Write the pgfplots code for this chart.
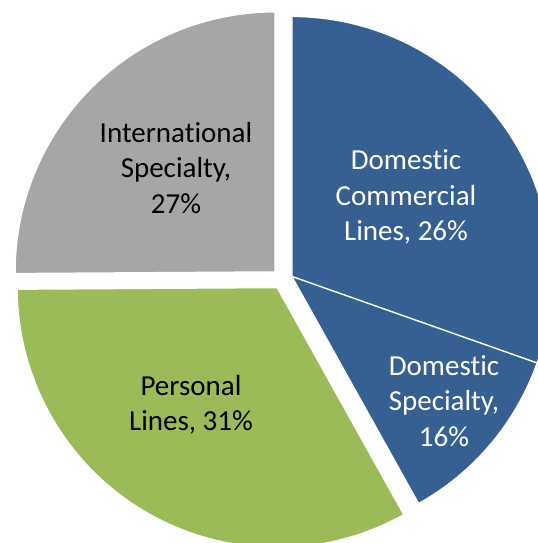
\documentclass[border=0pt]{standalone}
\usepackage{pgfplots}
\usepackage{pgfplotstable}
\pgfplotsset{compat=1.18}
\usepackage{fontspec}
\setmainfont{Carlito}[Ligatures=NoCommon]

\definecolor{pieblue}{RGB}{54,96,146}
\definecolor{piegreen}{RGB}{155,187,89}
\definecolor{piegray}{RGB}{166,166,166}

% share of the circle as drawn (percent), explode offset of each slice (px)
\pgfplotstableread{
label share dx dy
DC    30.4  9.7  2.5
DS    11.5  9.7  2.5
PL    33.0 -5.1 -8.6
IS    25.1 -7.1  7.1
}\pietable

\begin{document}
\begin{tikzpicture}
\begin{axis}[
    x=1bp, y=1bp,
    xmin=0, xmax=538, ymin=0, ymax=543,
    scale only axis, hide axis, clip=true,
]
\gdef\startang{90}
\foreach \i/\col in {0/pieblue,1/pieblue,2/piegreen,3/piegray}{
    \pgfplotstablegetelem{\i}{share}\of\pietable \let\s\pgfplotsretval
    \pgfplotstablegetelem{\i}{dx}\of\pietable \let\dx\pgfplotsretval
    \pgfplotstablegetelem{\i}{dy}\of\pietable \let\dy\pgfplotsretval
    \pgfmathsetmacro\endang{\startang-3.6*\s}
    \pgfmathsetmacro\cx{282.2+\dx}
    \pgfmathsetmacro\cy{264+\dy}
    \edef\temp{\noexpand\fill[\col, draw=white, line width=1.3bp]
        (axis cs:\cx,\cy) -- ++(\startang:260bp)
        arc[start angle=\startang, end angle=\endang, radius=260bp] -- cycle;}
    \temp
    \xdef\startang{\endang}
}
\tikzset{lbl/.style={align=center, inner sep=0pt, font=\fontsize{29bp}{35.5bp}\selectfont}}
\node[lbl, text=white] at (axis cs:406,346) {Domestic\\Commercial\\Lines, 26\%};
\node[lbl, text=white] at (axis cs:444,142) {Domestic\\Specialty,\\16\%};
\node[lbl, text=black] at (axis cs:176,375) {International\\Specialty,\\27\%};
\node[lbl, text=black] at (axis cs:191,138) {Personal\\Lines, 31\%};
\end{axis}
\useasboundingbox (current axis.south west) rectangle (current axis.north east);
\end{tikzpicture}
\end{document}
